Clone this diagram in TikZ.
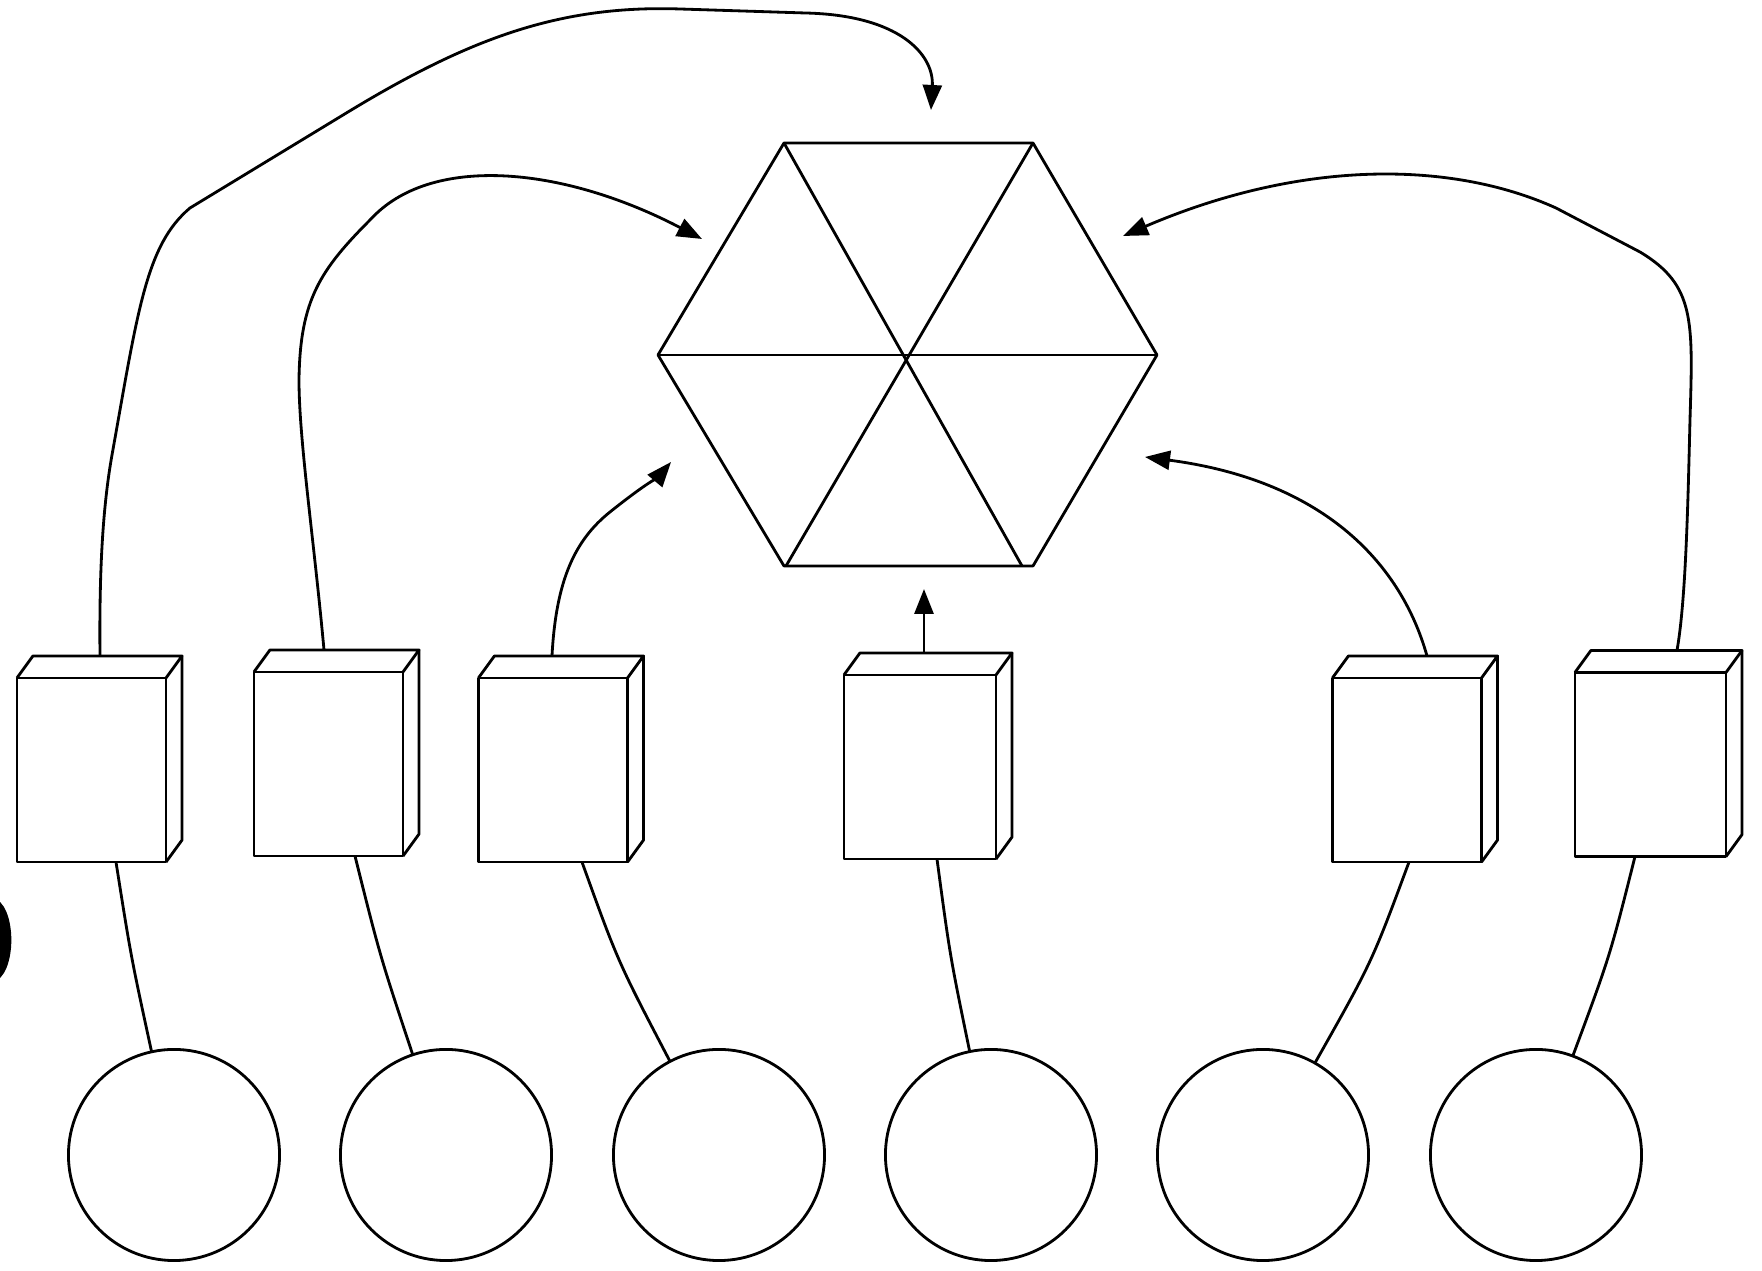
\documentclass[tikz,border=0pt]{standalone}
\usetikzlibrary{arrows.meta,calc}
\tikzset{
  ln/.style={line width=0.8pt, line join=round},
  arr/.style={ln, -{Triangle[length=0.25cm,width=0.19cm]}},
  cubefront/.style={draw, ln, rectangle, minimum width=1.49cm, minimum height=1.84cm, inner sep=0pt, outer sep=0pt},
  ball/.style={draw, ln, circle, minimum size=2.11cm, inner sep=0pt, outer sep=0pt},
}
\newcommand\cubeback[1]{%
  \draw[ln] (#1.north west) -- ++(16,-22) -- ($(#1.north east)+(16,-22)$) -- (#1.north east);
  \draw[ln] ($(#1.north east)+(16,-22)$) -- ($(#1.south east)+(16,-22)$) -- (#1.south east);
}
\begin{document}
\begin{tikzpicture}[x=0.01cm,y=-0.01cm]
\useasboundingbox (0,0) rectangle (1762,1271);
\fill[white] (0,0) rectangle (1762,1271);

% partial dark shape at left edge
\begin{scope}
  \clip (0,0) rectangle (1762,1271);
  \draw[line width=3.6pt] (-10,940) ellipse (15 and 36);
\end{scope}

% hexagon
\coordinate (h1) at (784,143);
\coordinate (h2) at (1033,143);
\coordinate (h3) at (1157,355);
\coordinate (h4) at (1033,566);
\coordinate (h5) at (784,566);
\coordinate (h6) at (658,355);
\coordinate (hx1) at (1022,566);
\coordinate (hx2) at (786,566);
\draw[ln] (h1) -- (h2) -- (h3) -- (h4) -- (h5) -- (h6) -- cycle;
\draw[ln] (h6) -- (h3);
\draw[ln] (h1) -- (hx1);
\draw[ln] (h2) -- (hx2);

% boxes
\node[cubefront] (b1) at (91.5,770) {};
\node[cubefront] (b2) at (328.5,764) {};
\node[cubefront] (b3) at (553,770) {};
\node[cubefront, minimum width=1.52cm] (b4) at (920,767) {};
\node[cubefront] (b5) at (1407,770) {};
\node[cubefront, minimum width=1.51cm] (b6) at (1650.5,764.5) {};
\cubeback{b1}
\cubeback{b2}
\cubeback{b3}
\cubeback{b4}
\cubeback{b5}
\cubeback{b6}

% circles
\node[ball] (c1) at (174,1155) {};
\node[ball] (c2) at (446,1155) {};
\node[ball] (c3) at (719,1155) {};
\node[ball] (c4) at (991,1155) {};
\node[ball] (c5) at (1263,1155) {};
\node[ball] (c6) at (1536,1155) {};

% connector anchor points
\coordinate (b1t) at ($(b1.north)+(8.5,-22)$);
\coordinate (b2t) at ($(b2.north)+(-4.5,-22)$);
\coordinate (b3t) at ($(b3.north)+(-1,-22)$);
\coordinate (b4t) at ($(b4.north)+(4,-22)$);
\coordinate (b5t) at ($(b5.north)+(20,-22)$);
\coordinate (b6t) at ($(b6.north)+(26.5,-22)$);
\coordinate (b1s) at ($(b1.south)+(24.5,0)$);
\coordinate (b2s) at ($(b2.south)+(26.5,0)$);
\coordinate (b3s) at ($(b3.south)+(29,0)$);
\coordinate (b4s) at ($(b4.south)+(17,0)$);
\coordinate (b5s) at ($(b5.south)+(2,0)$);
\coordinate (b6s) at ($(b6.south)+(-15.5,0)$);
\coordinate (e1) at (931,110);
\coordinate (e2) at (702,239);
\coordinate (e3) at (671,462);
\coordinate (e4) at (924,589);
\coordinate (e5) at (1145,457);
\coordinate (e6) at (1123,236);

% arrows to hexagon
\draw[arr] (b1t) .. controls (99,560) and (104,500) .. (112,455)
  .. controls (138,310) and (146,245) .. (190,208) -- (348,112)
  .. controls (470,38) and (560,5) .. (680,9) -- (805,13)
  .. controls (900,15) and (934,55) .. (e1);
\draw[arr] (b2t) .. controls (314,540) and (299,440) .. (299,380)
  .. controls (300,300) and (320,270) .. (371,219)
  .. controls (430,155) and (560,165) .. (e2);
\draw[arr] (b3t) .. controls (556,580) and (575,540) .. (610,512)
  .. controls (640,488) and (660,475) .. (e3);
\draw[arr] (b4t) -- (e4);
\draw[arr] (b5t) .. controls (1400,560) and (1320,480) .. (e5);
\draw[arr] (b6t) .. controls (1686,600) and (1688,500) .. (1690,420)
  .. controls (1693,320) and (1695,285) .. (1640,252) -- (1556,208)
  .. controls (1450,160) and (1300,160) .. (e6);

% lines to circles
\draw[ln] (b1s) .. controls (131,957) .. (c1);
\draw[ln] (b2s) .. controls (380,956) .. (c2);
\draw[ln] (b3s) .. controls (618,962) .. (c3);
\draw[ln] (b4s) .. controls (950,956) .. (c4);
\draw[ln] (b5s) .. controls (1372,962) .. (c5);
\draw[ln] (b6s) .. controls (1610,956) .. (c6);
\end{tikzpicture}
\end{document}
